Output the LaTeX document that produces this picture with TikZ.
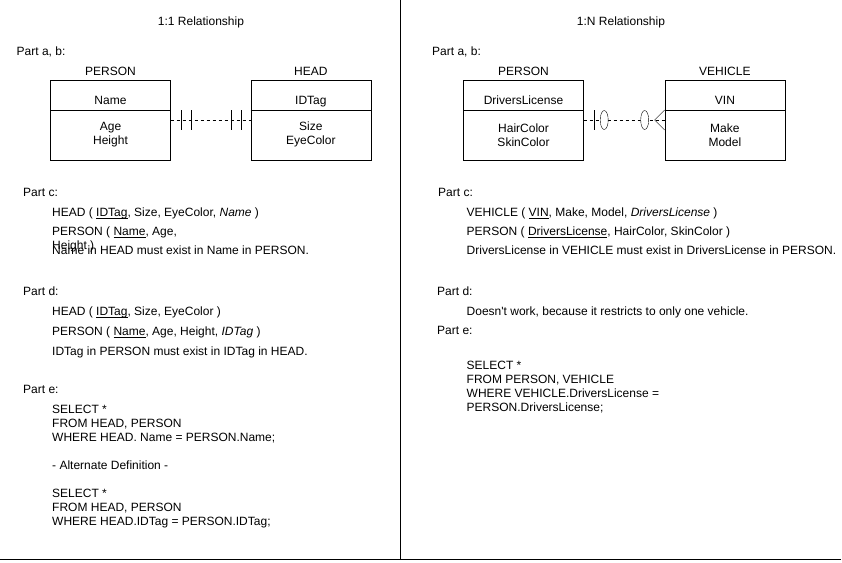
\documentclass[tikz,border=0pt]{standalone}
\usepackage{fontspec}
\setmainfont{Liberation Sans}[Ligatures=TeXOff]
\usetikzlibrary{positioning}

\newsavebox{\keybox}
\newcommand{\keyattr}[1]{\sbox{\keybox}{#1}\rlap{\rule[-2.4pt]{\wd\keybox}{0.9pt}}\usebox{\keybox}}

\begin{document}
\begin{tikzpicture}[
        x = 1pt, y = -1pt,
        every node/.style = {inner sep=0pt, font=\fontsize{12}{14}\selectfont},
        txt/.style = {anchor=base west},
        sql/.style = {anchor=base west, align=left},
        heading/.style = {anchor=base},
        entity/.style = {draw, minimum width=120pt, minimum height=80pt},
        attrs/.style = {align=center},
        relline/.style = {draw, dash pattern=on 3pt off 3pt},
        ring/.style = {draw, fill=white}
    ]
    \useasboundingbox (0,0) rectangle (842,562);

    % Frame
    \draw (400.5,0) -- (400.5,559);
    \draw (0,559) -- (841,559);

    % Titles
    \node[heading] (title1) at (201,25) {1:1 Relationship};
    \node[heading] (titleN) at (621,25) {1:N Relationship};
    \node[txt] (partab1) at (16.5,55) {Part a, b:};
    \node[txt] (partabN) at (432,55) {Part a, b:};

    % Entities 1:1
    \node[entity] (person1) at (110.5,120) {};
    \node[entity, right=80pt of person1] (head1) {};
    \draw ([yshift=-30pt]person1.north west) -- ([yshift=-30pt]person1.north east);
    \draw ([yshift=-30pt]head1.north west) -- ([yshift=-30pt]head1.north east);
    \node[heading] (person1title) at ([yshift=4pt]person1.north) {PERSON};
    \node[heading] (head1title) at ([yshift=4pt]head1.north) {HEAD};
    \node[heading] (person1key) at ([yshift=-24.5pt]person1.north) {Name};
    \node[heading] (head1key) at ([yshift=-24.5pt]head1.north) {IDTag};
    \node[attrs] (person1attr) at ([yshift=-55pt]person1.north) {Age\\Height};
    \node[attrs] (head1attr) at ([yshift=-55pt]head1.north) {Size\\EyeColor};

    % One and only one on both ends
    \path[relline] (person1) -- (head1);
    \draw ([xshift=10pt]person1.east) ++(0,-10) -- ++(0,20);
    \draw ([xshift=20pt]person1.east) ++(0,-10) -- ++(0,20);
    \draw ([xshift=-10pt]head1.west) ++(0,-10) -- ++(0,20);
    \draw ([xshift=-20pt]head1.west) ++(0,-10) -- ++(0,20);

    % Entities 1:N
    \node[entity] (person2) at (523.5,120) {};
    \node[entity, right=81pt of person2] (vehicle) {};
    \draw ([yshift=-30pt]person2.north west) -- ([yshift=-30pt]person2.north east);
    \draw ([yshift=-30pt]vehicle.north west) -- ([yshift=-30pt]vehicle.north east);
    \node[heading] (person2title) at ([yshift=4pt]person2.north) {PERSON};
    \node[heading] (vehicletitle) at ([yshift=4pt]vehicle.north) {VEHICLE};
    \node[heading] (person2key) at ([yshift=-24.5pt]person2.north) {DriversLicense};
    \node[heading] (vehiclekey) at ([yshift=-24.5pt]vehicle.north) {VIN};
    \node[attrs] (person2attr) at ([yshift=-55pt]person2.north) {HairColor\\SkinColor};
    \node[attrs] (vehicleattr) at ([yshift=-55pt]vehicle.north) {Make\\Model};

    % Zero or one to zero or many
    \path[relline] (person2) -- (vehicle);
    \draw ([xshift=10pt]person2.east) ++(0,-10) -- ++(0,20);
    \draw[ring] ([xshift=20.5pt]person2.east) ellipse [x radius=4pt, y radius=9.5pt];
    \draw[ring] ([xshift=-20pt]vehicle.west) ellipse [x radius=4pt, y radius=9.5pt];
    \draw ([yshift=10pt]vehicle.west) -- ([xshift=-10pt]vehicle.west) -- ([yshift=-10pt]vehicle.west);

    % Parts c, d, e (1:1)
    \node[txt] (partc1) at (23,196) {Part c:};
    \node[txt] (c1head) at (52,216) {HEAD ( \keyattr{IDTag}, Size, EyeColor, \textit{Name} )};
    \node[sql] (c1person) at (52,249.5) {PERSON ( \keyattr{Name}, Age,\\Height )};
    \node[txt] (c1rule) at (52,254.5) {Name in HEAD must exist in Name in PERSON.};
    \node[txt] (partd1) at (23,295) {Part d:};
    \node[txt] (d1head) at (52,315) {HEAD ( \keyattr{IDTag}, Size, EyeColor )};
    \node[txt] (d1person) at (52,335) {PERSON ( \keyattr{Name}, Age, Height, \textit{IDTag} )};
    \node[txt] (d1rule) at (52,355) {IDTag in PERSON must exist in IDTag in HEAD.};
    \node[txt] (parte1) at (23,393.5) {Part e:};
    \node[sql] (e1query) at (52,525.5) {SELECT *\\
    FROM HEAD, PERSON\\
    WHERE HEAD. Name = PERSON.Name;\\[14pt]
    - Alternate Definition -\\[14pt]
    SELECT *\\
    FROM HEAD, PERSON\\
    WHERE HEAD.IDTag = PERSON.IDTag;};

    % Parts c, d, e (1:N)
    \node[txt] (partcN) at (438,196) {Part c:};
    \node[txt] (cNvehicle) at (466.5,216) {VEHICLE ( \keyattr{VIN}, Make, Model, \textit{DriversLicense} )};
    \node[txt] (cNperson) at (466.5,235.5) {PERSON ( \keyattr{DriversLicense}, HairColor, SkinColor )};
    \node[txt] (cNrule) at (466.5,254.5) {DriversLicense in VEHICLE must exist in DriversLicense in PERSON.};
    \node[txt] (partdN) at (437,295) {Part d:};
    \node[txt] (dNnote) at (466.5,315) {Doesn't work, because it restricts to only one vehicle.};
    \node[txt] (parteN) at (437,334.5) {Part e:};
    \node[sql] (eNquery) at (466.5,411) {SELECT *\\
    FROM PERSON, VEHICLE\\
    WHERE VEHICLE.DriversLicense =\\
    PERSON.DriversLicense;};

\end{tikzpicture}
\end{document}
